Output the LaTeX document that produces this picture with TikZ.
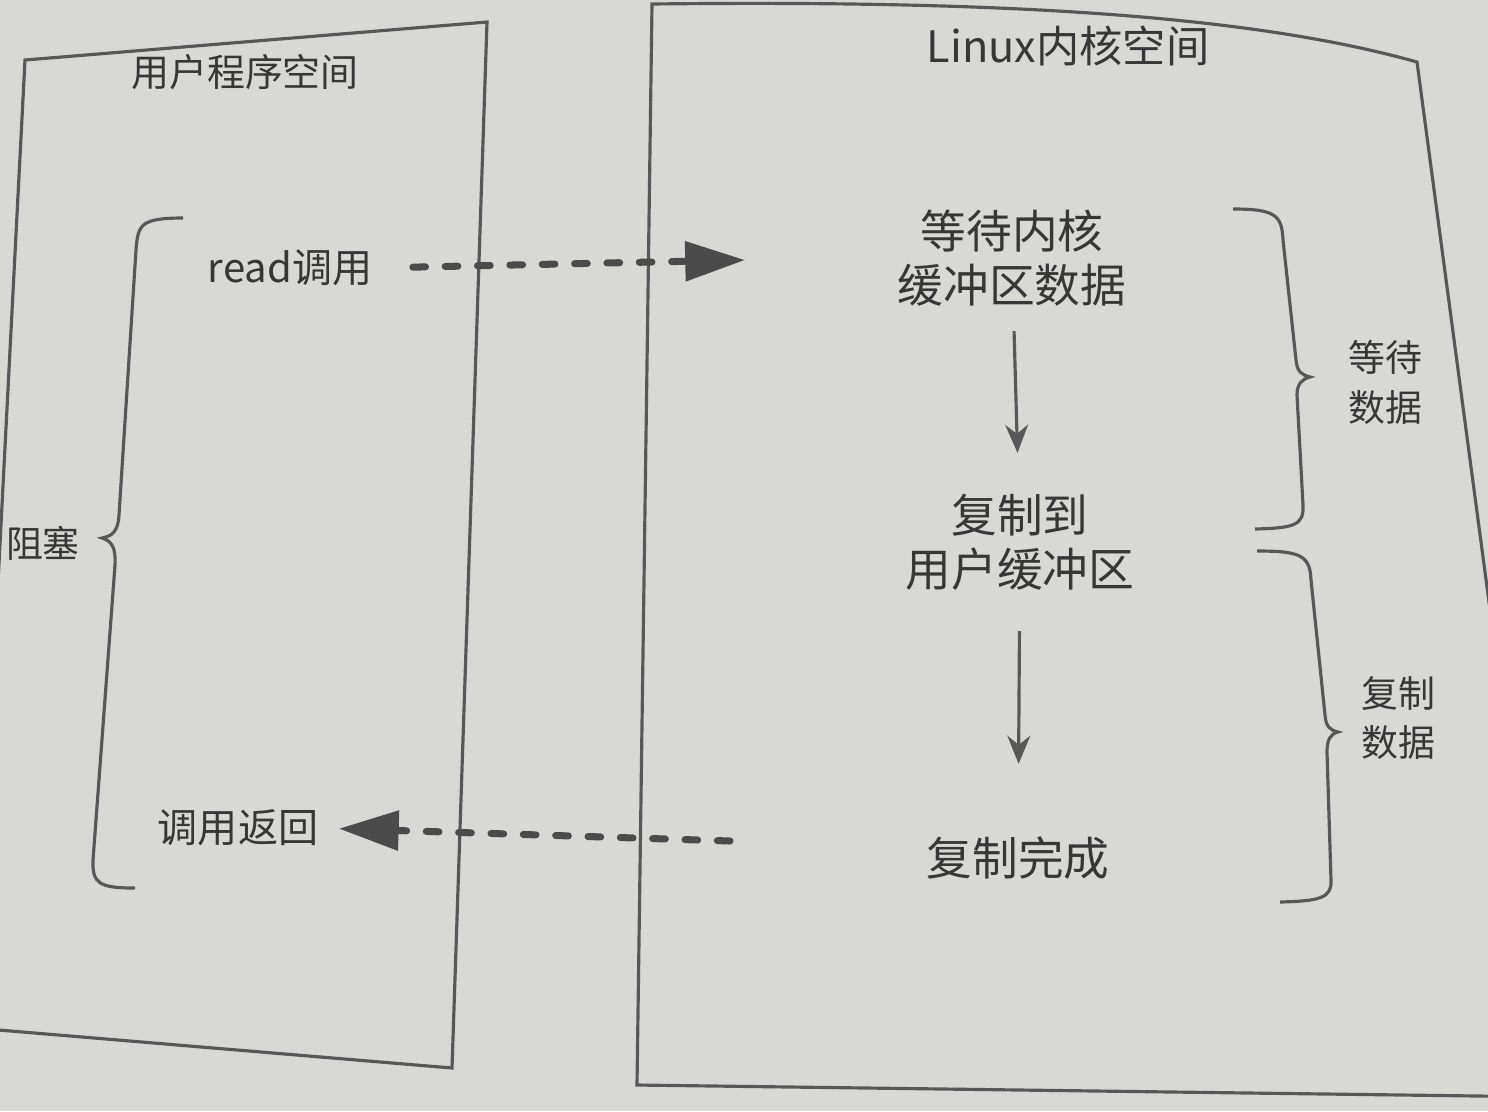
\documentclass[tikz,border=0pt]{standalone}
\usepackage{fontspec}
\newfontfamily\cjk{Noto Sans CJK SC}
\usetikzlibrary{arrows.meta,positioning}

\definecolor{paper}{RGB}{216,216,213}
\definecolor{ink}{RGB}{88,88,88}
\definecolor{textink}{RGB}{55,55,55}

\tikzset{
  biglbl/.style={font=\cjk\fontsize{13}{15.5}\selectfont, text=textink, inner sep=0pt, align=center},
  calllbl/.style={font=\cjk\fontsize{11.4}{14}\selectfont, text=textink, inner sep=0pt},
  sidelbl/.style={font=\cjk\fontsize{10.5}{14.2}\selectfont, text=textink, inner sep=0pt, align=center},
  frame/.style={draw=ink, line width=0.9pt},
  bracepath/.style={draw=ink, line width=0.9pt},
  dasharrow/.style={draw=ink!85!black, line width=2pt, line cap=round,
    dash pattern=on 3.6pt off 5.6pt, -{Triangle[length=17pt,width=11pt]}},
  downarrow/.style={draw=ink, line width=0.9pt, -{Stealth[length=8pt,width=6.5pt]}}
}

\begin{document}
\begin{tikzpicture}[x=0.01cm, y=-0.01cm]

    % paper and fixed size
    \fill[paper] (0,0) rectangle (1488,1111);
    \useasboundingbox (0,0) rectangle (1488,1111);
    \clip (0,0) rectangle (1488,1111);

    % the two spaces
    \draw[frame] (25,60) -- (487,22) -- (452,1068) -- (-25,1028) -- cycle;
    \draw[frame] (652,4) .. controls (1000,0) and (1250,15) .. (1417,62)
      -- (1555,1097) -- (637,1085) -- cycle;
    \node[calllbl, font=\cjk\fontsize{10.8}{13}\selectfont] (userspace) at (245,72) {用户程序空间};
    \node[calllbl, font=\cjk\fontsize{12.3}{14}\selectfont] (kernelspace) at (1068,46) {Linux内核空间};

    % user side
    \node[calllbl] (readcall) at (290,268) {read调用};
    \node[calllbl] (callret) at (238,828) {调用返回};

    % kernel side
    \node[biglbl] (waitdata) at (1012,258) {等待内核\\缓冲区数据};
    \node[biglbl] (copyuser) at (1020,542) {复制到\\用户缓冲区};
    \node[biglbl] (copydone) at (1018,858) {复制完成};

    % free ends of the dashed arrows
    \coordinate (readtip) at (745,260);
    \coordinate (rettail) at (730,841);

    % arrows
    \draw[dasharrow, shorten <=0.4cm] (readcall.east) -- (readtip);
    \draw[dasharrow, shorten >=0.2cm] (rettail) -- (callret.east);
    \draw[downarrow, shorten <=0.24cm, shorten >=0.4cm] (waitdata) -- (copyuser);
    \draw[downarrow, shorten <=0.4cm, shorten >=0.72cm] (copyuser) -- (copydone);

    % braces
    \draw[bracepath] (183,218) .. controls (140,218) and (138,225) .. (136,250) -- (119,515)
      .. controls (118,532) and (112,536) .. (102,538) .. controls (112,541) and (116,548) .. (115,565)
      -- (93,860) .. controls (92,884) and (100,888) .. (135,888);
    \draw[bracepath] (1233,209) .. controls (1275,209) and (1282,215) .. (1283,240) -- (1296,360)
      .. controls (1297,372) and (1302,375) .. (1310,377) .. controls (1302,379) and (1297,384) .. (1297,395)
      -- (1303,505) .. controls (1304,525) and (1295,528) .. (1255,529);
    \draw[bracepath] (1257,551) .. controls (1300,551) and (1310,555) .. (1311,580) -- (1325,715)
      .. controls (1326,727) and (1330,730) .. (1338,732) .. controls (1330,734) and (1327,740) .. (1327,752)
      -- (1331,880) .. controls (1332,898) and (1320,901) .. (1280,902);

    % brace labels
    \node[sidelbl] (block) at (43,543) {阻塞};
    \node[sidelbl] (waitlbl) at (1385,382) {等待\\数据};
    \node[sidelbl] (copylbl) at (1398,718) {复制\\数据};

\end{tikzpicture}
\end{document}
